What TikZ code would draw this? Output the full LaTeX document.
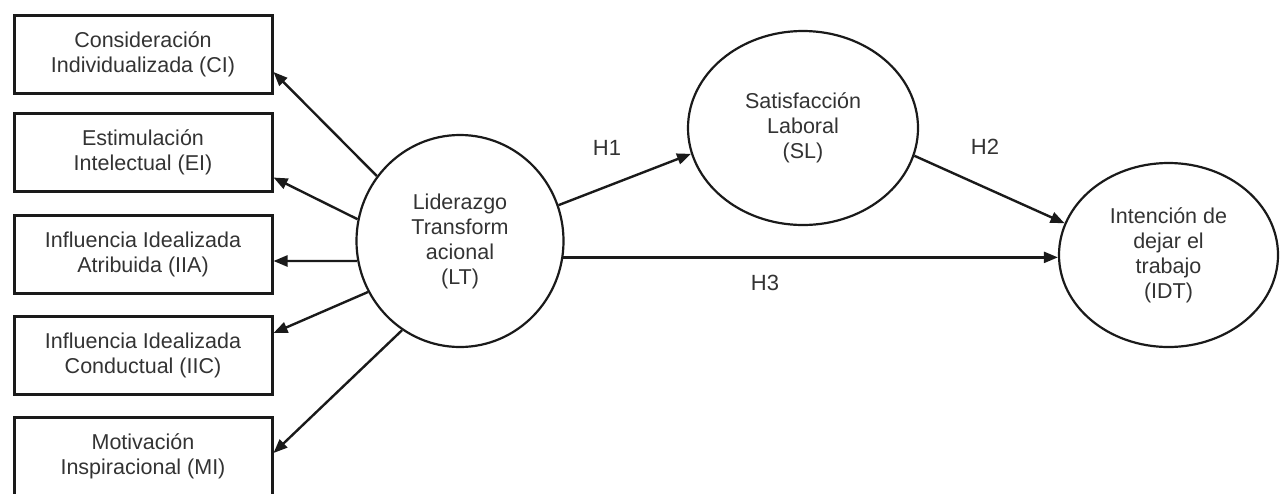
\documentclass[tikz,border=0pt]{standalone}
\usepackage{fontspec}
\setmainfont{Liberation Sans}
\usetikzlibrary{arrows.meta,shapes.geometric,calc}
\definecolor{txt}{HTML}{333333}
\definecolor{ln}{HTML}{1A1A1A}
\begin{document}
\begin{tikzpicture}[x=1pt,y=-1pt,
  every node/.style={font=\fontsize{21.5}{25}\selectfont, text=txt},
  dimbox/.style={draw=ln, line width=3pt, minimum width=258pt, minimum height=78pt, align=center, inner sep=0pt},
  construct/.style={ellipse, draw=ln, line width=2.2pt, align=center, inner sep=0pt},
  link/.style={draw=ln, line width=2.4pt, -{Triangle[length=14pt,width=11pt]}},
  hyp/.style={font=\fontsize{22}{26}\selectfont}
]
\useasboundingbox (0,0) rectangle (1281,493);
\clip (0,0) rectangle (1281,493);

\node[dimbox] (CI) at (143,54) {Consideración\\Individualizada (CI)};
\node[dimbox] (EI) at (143,152.5) {Estimulación\\Intelectual (EI)};
\node[dimbox] (IIA) at (143,254.5) {Influencia Idealizada\\Atribuida (IIA)};
\node[dimbox] (IIC) at (143,355) {Influencia Idealizada\\Conductual (IIC)};
\node[dimbox] (MI) at (143,456) {Motivación\\Inspiracional (MI)};

\node[construct, minimum width=207pt, minimum height=212pt] (LT) at (460,241) {Liderazgo\\Transform\\acional\\(LT)};
\node[construct, minimum width=230pt, minimum height=194pt] (SL) at (803,128) {Satisfacción\\Laboral\\(SL)};
\node[construct, minimum width=219pt, minimum height=184pt] (IDT) at (1168.5,255) {Intención de\\dejar el\\trabajo\\(IDT)};

\draw[link] (LT.142) -- ($(CI.east)+(0,18)$);
\draw[link] (LT.168) -- ($(EI.east)+(0,25)$);
\draw[link] (LT.191) -- ($(IIA.east)+(0,6.5)$);
\draw[link] (LT.209) -- ($(IIC.east)+(0,-22)$);
\draw[link] (LT.237) -- ($(MI.east)+(0,-3)$);
\draw[link] (LT.20) -- (SL.193);
\draw[link] (SL.346) -- (IDT.163);
\draw[link] (LT.351) -- (LT.351 -| IDT.west);

\node[hyp] (H1) at (607,148) {H1};
\node[hyp] (H2) at (985,147) {H2};
\node[hyp] (H3) at (765,283) {H3};
\end{tikzpicture}
\end{document}
